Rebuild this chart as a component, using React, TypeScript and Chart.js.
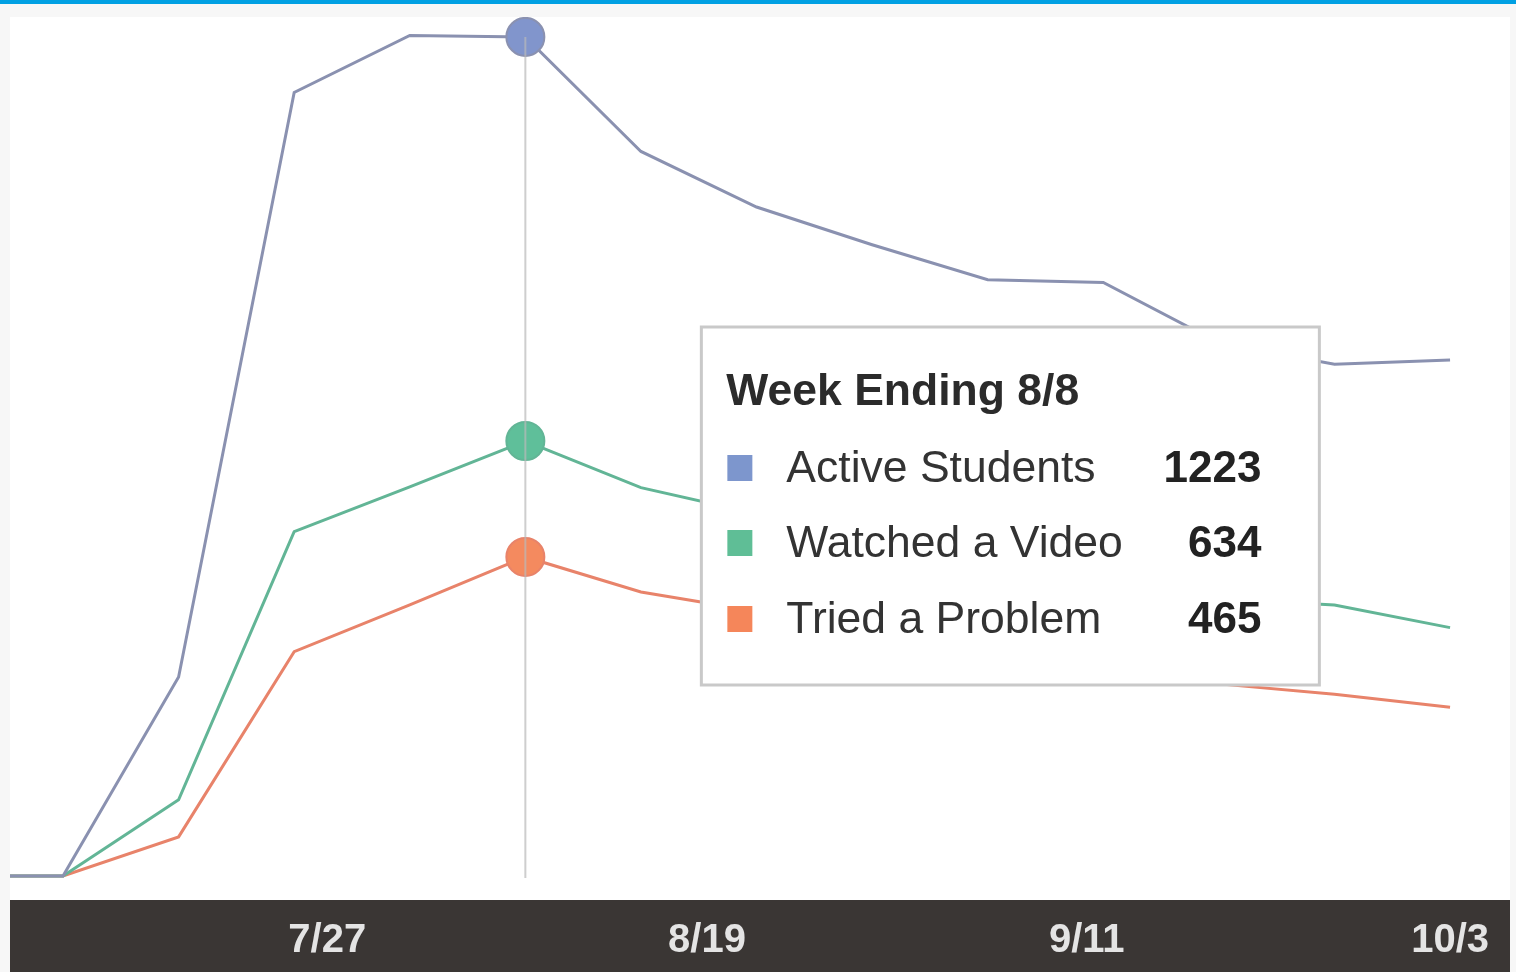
import React, { useEffect, useRef } from 'react';
import { Chart, registerables } from 'chart.js';

Chart.register(...registerables);

// ---- data ----
const weekEnding = ['7/4', '7/11', '7/18', '7/25', '8/1', '8/8', '8/15', '8/22', '8/29', '9/5', '9/12', '9/19', '9/26', '10/3'];
const activeStudents = [0, 0, 290, 1142, 1225, 1223, 1056, 975, 920, 869, 865, 777, 746, 752];
const watchedVideo = [0, 0, 111, 502, 567, 634, 566, 528, 478, 443, 432, 404, 395, 362];
const triedProblem = [0, 0, 57, 327, 395, 465, 414, 386, 354, 326, 320, 280, 265, 246];
const seriesNames = ['Active Students', 'Watched a Video', 'Tried a Problem'];
const tickLabels = ['7/27', '8/19', '9/11', '10/3'];
const activeWeek = '8/8';
const tooltipTitlePrefix = 'Week Ending ';

// ---- styles ----
const lineColors = ['#8a91b0', '#62b596', '#e8836a'];
const pointColors = ['#8195cc', '#5fbf9a', '#f48a5f'];
const swatchColors = ['#7d96cd', '#5fbe96', '#f5865a'];
const FONT = '"Liberation Sans", Arial, Helvetica, sans-serif';

const MONTH_OFFSET: Record<number, number> = { 7: 0, 8: 31, 9: 62, 10: 92 };
function toDay(md: string): number {
  const [m, d] = md.split('/').map(Number);
  return MONTH_OFFSET[m] + d;
}
const tickMap: Record<number, string> = {};
tickLabels.forEach((l) => (tickMap[toDay(l)] = l));

const seriesValues = [activeStudents, watchedVideo, triedProblem];
const activeIndex = weekEnding.indexOf(activeWeek);

const darkBarPlugin = {
  id: 'darkBar',
  beforeDraw(chart: any) {
    const { ctx, chartArea, width, height } = chart;
    ctx.save();
    ctx.fillStyle = '#ffffff';
    ctx.fillRect(0, 0, width, chartArea.bottom);
    ctx.fillStyle = '#3a3634';
    ctx.fillRect(0, chartArea.bottom, width, height - chartArea.bottom);
    ctx.restore();
  },
};

const hoverLinePlugin = {
  id: 'hoverLine',
  afterDatasetsDraw(chart: any) {
    const { ctx } = chart;
    const xs = chart.scales.x;
    const ys = chart.scales.y;
    const x = xs.getPixelForValue(toDay(activeWeek));
    const y1 = ys.getPixelForValue(activeStudents[activeIndex]);
    const y2 = ys.getPixelForValue(0) + 2;
    ctx.save();
    ctx.strokeStyle = 'rgba(185,185,185,0.7)';
    ctx.lineWidth = 2;
    ctx.beginPath();
    ctx.moveTo(x, y1);
    ctx.lineTo(x, y2);
    ctx.stroke();
    ctx.restore();
  },
};

const tooltipPlugin = {
  id: 'fixedTooltip',
  afterDraw(chart: any) {
    const { ctx } = chart;
    const xs = chart.scales.x;
    const ax = xs.getPixelForValue(toDay(activeWeek));
    const left = ax + 176;
    const top = 310;
    const w = 618;
    const h = 358;
    ctx.save();
    ctx.fillStyle = '#ffffff';
    ctx.fillRect(left, top, w, h);
    ctx.strokeStyle = '#c9c9c9';
    ctx.lineWidth = 3;
    ctx.strokeRect(left, top, w, h);

    ctx.textBaseline = 'alphabetic';
    ctx.fillStyle = '#2b2b2b';
    ctx.font = `bold 44.5px ${FONT}`;
    ctx.textAlign = 'left';
    ctx.fillText(tooltipTitlePrefix + activeWeek, left + 25, top + 78);

    const baselines = [155, 230, 306];
    seriesNames.forEach((name, i) => {
      const by = top + baselines[i];
      ctx.fillStyle = swatchColors[i];
      ctx.fillRect(left + 26, by - 27, 25, 26);
      ctx.fillStyle = '#333333';
      ctx.font = `44.5px ${FONT}`;
      ctx.textAlign = 'left';
      ctx.fillText(name, left + 85, by);
      ctx.fillStyle = '#222222';
      ctx.font = `bold 44px ${FONT}`;
      ctx.textAlign = 'right';
      ctx.fillText(String(seriesValues[i][activeIndex]), left + 560, by);
    });
    ctx.restore();
  },
};

function makeDataset(label: string, values: number[], i: number) {
  return {
    label,
    data: values.map((v, k) => ({ x: toDay(weekEnding[k]), y: v })),
    borderColor: lineColors[i],
    backgroundColor: pointColors[i],
    borderWidth: 3,
    tension: 0,
    fill: false,
    pointRadius: (c: any) => (c.dataIndex === activeIndex ? 19 : 0),
    pointBorderWidth: 2,
    pointBorderColor: lineColors[i],
    pointBackgroundColor: pointColors[i],
    clip: false as any,
  };
}

export default function App() {
  const canvasRef = useRef<HTMLCanvasElement | null>(null);

  useEffect(() => {
    if (!canvasRef.current) return;
    const chart = new Chart(canvasRef.current, {
      type: 'line',
      data: {
        datasets: [
          makeDataset(seriesNames[0], activeStudents, 0),
          makeDataset(seriesNames[1], watchedVideo, 1),
          makeDataset(seriesNames[2], triedProblem, 2),
        ],
      },
      options: {
        responsive: true,
        maintainAspectRatio: false,
        animation: false,
        events: [],
        layout: { padding: 0 },
        plugins: {
          legend: { display: false },
          tooltip: { enabled: false },
        },
        scales: {
          x: {
            type: 'linear',
            min: 7.79,
            max: 98.63,
            grid: { display: false, drawTicks: false },
            border: { display: false },
            afterBuildTicks: (scale: any) => {
              scale.ticks = tickLabels.map((l) => ({ value: toDay(l) }));
            },
            afterFit: (scale: any) => {
              scale.height = 72;
            },
            ticks: {
              color: '#e4e4e4',
              font: { family: FONT, size: 40, weight: 'bold' },
              padding: 17,
              maxRotation: 0,
              autoSkip: false,
              callback: (v: any) => tickMap[Math.round(Number(v))] ?? '',
            },
          },
          y: {
            display: false,
            min: -35,
            max: 1252,
          },
        },
      } as any,
      plugins: [darkBarPlugin, hoverLinePlugin, tooltipPlugin],
    });
    return () => chart.destroy();
  }, []);

  return (
    <div
      style={{
        position: 'fixed',
        left: 0,
        top: 0,
        width: 1516,
        height: 972,
        background: '#f7f7f7',
        overflow: 'hidden',
      }}
    >
      <div style={{ position: 'absolute', left: 0, top: 0, width: 1516, height: 4, background: '#00a0e3' }} />
      <div style={{ position: 'absolute', left: 10, top: 17, width: 1500, height: 955 }}>
        <canvas ref={canvasRef} />
      </div>
    </div>
  );
}
